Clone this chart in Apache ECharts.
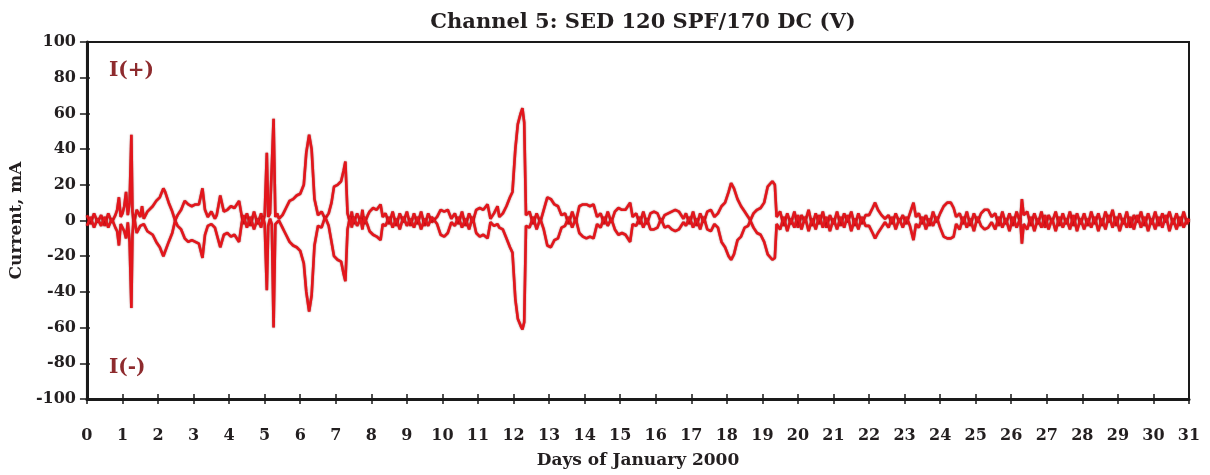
<!DOCTYPE html>
<html>
<head>
<meta charset="utf-8">
<script src="https://cdn.jsdelivr.net/npm/echarts@6/dist/echarts.min.js"></script>
<style>html,body{margin:0;padding:0;background:#fff}#chart{width:1210px;height:475px}</style>
</head>
<body>
<div id="chart"></div>
<script>
const titleText = 'Channel 5: SED 120 SPF/170 DC (V)';
const xAxisName = 'Days of January 2000';
const yAxisName = 'Current, mA';
const xTicks = [0,1,2,3,4,5,6,7,8,9,10,11,12,13,14,15,16,17,18,19,20,21,22,23,24,25,26,27,28,29,30,31];
const yTicks = [-100,-80,-60,-40,-20,0,20,40,60,80,100];

// sample times (days) shared by both series
const days = [
0.0,0.1,0.2,0.3,0.4,0.5,0.6,0.7,0.8,0.85,0.9,0.95,1.0,1.05,1.1,1.15,1.2,1.25,1.28,1.32,1.4,1.5,1.55,1.6,1.7,
1.75,1.85,1.95,2.05,2.15,2.2,2.3,2.4,2.48,
2.55,2.65,2.75,2.85,2.95,3.05,3.15,3.25,3.32,3.4,3.5,3.6,
3.65,3.75,3.85,3.95,4.05,4.15,4.28,4.35,
4.4,4.5,4.6,4.7,4.8,4.9,4.95,5.0,5.06,5.1,5.15,5.2,5.25,5.3,5.35,5.4,5.5,
5.55,5.6,5.7,5.8,5.9,6.0,6.1,6.17,6.25,6.32,6.4,6.5,
6.6,6.7,6.8,6.88,6.95,7.05,7.15,7.22,7.27,7.33,
7.4,7.45,7.5,7.6,7.7,7.75,7.8,7.9,
7.95,8.05,8.15,8.26,8.32,
8.4,8.5,8.6,8.7,8.8,8.9,9.0,9.1,9.2,9.3,9.4,9.5,9.6,9.7,
9.85,9.95,10.05,10.15,10.25,
10.35,10.45,10.55,10.65,10.75,10.85,
10.95,11.05,11.15,11.27,11.35,
11.45,11.55,11.6,
11.7,11.8,11.9,11.97,12.05,12.12,12.2,12.25,12.3,12.35,
12.45,12.55,12.65,12.75,
12.85,12.95,13.05,13.15,13.25,13.35,
13.45,13.55,13.65,13.75,
13.85,13.95,14.05,14.15,14.25,14.35,
14.45,14.55,14.65,14.75,
14.85,14.95,15.05,15.15,15.28,15.35,
15.45,15.55,15.65,15.75,15.85,15.95,16.05,16.15,16.25,
16.35,16.45,16.55,16.65,16.78,
16.85,16.95,17.05,17.15,17.25,17.35,
17.45,17.55,17.65,
17.75,17.85,17.95,18.05,18.12,18.2,18.3,18.4,18.5,18.6,18.66,
18.75,18.85,18.95,19.05,19.15,19.28,19.35,19.4,
19.5,19.6,19.7,19.8,19.9,20.0,20.1,20.2,20.3,20.4,20.5,20.6,20.7,20.8,20.9,21.0,21.1,21.2,21.3,21.4,21.5,21.6,21.7,21.8,21.9,
22.0,22.1,22.17,22.25,22.35,22.45,
22.55,22.65,22.75,22.85,22.95,23.05,23.15,23.25,23.32,
23.4,23.5,23.6,23.7,23.8,23.9,
24.0,24.1,24.2,24.3,24.38,24.45,
24.55,24.65,24.75,24.85,24.95,25.05,
25.15,25.25,25.35,25.45,
25.55,25.65,25.75,25.85,25.95,26.05,26.15,26.25,26.3,26.35,
26.45,26.55,26.65,26.75,26.85,26.95,27.05,27.15,27.25,27.35,27.45,27.55,27.65,27.75,27.85,27.95,
28.05,28.15,28.25,28.35,28.45,28.55,28.65,28.75,28.85,28.95,29.05,29.15,29.25,29.35,29.45,29.55,
29.65,29.75,29.85,29.95,30.05,30.15,30.25,30.35,30.45,30.55,30.65,30.75,30.85,30.95,31.0
];

// I(+) current, mA
const iPlus = [
3,-2,4,-1,3,-3,4,-1,3,6,13,2,4,8,16,3,10,48,5,-2,6,2,8,1,5,
6,8,11,13,18,16,10,5,0,
3,6,11,9,8,9,9,18,6,2,5,1,
3,14,5,6,8,7,11,3,
-2,4,-3,5,-2,4,-1,3,38,2,4,3,57,2,4,1,3,
5,7,11,12,14,15,20,38,48,40,12,3,
5,1,4,10,19,20,22,28,33,4,
-1,5,-2,4,-1,6,-2,3,
5,7,6,9,2,
4,-2,5,-3,4,-1,5,-3,4,-2,5,-3,4,-1,
2,6,5,6,1,
4,-2,5,-3,4,-1,
6,7,6,9,1,
4,8,2,
4,8,13,16,40,54,60,63,55,3,
5,-2,4,-1,
6,13,12,9,8,3,
4,-2,5,-1,
8,9,9,8,9,2,
4,-2,5,-1,
5,7,6,6,10,2,
4,-2,5,-2,4,5,4,-1,3,
4,5,6,5,1,
4,-2,5,-3,4,-1,
5,6,2,
4,8,10,16,21,18,12,8,5,2,0,
4,6,7,10,19,22,20,2,
5,-3,4,-2,5,-4,3,-1,6,-3,4,-2,5,-4,3,-2,5,-3,4,-1,5,-3,4,-2,3,
3,7,10,6,3,1,
3,-2,4,-1,3,-2,4,10,2,
4,-2,3,-3,5,-1,
4,8,10,10,7,2,
4,-2,5,-3,4,-1,
4,6,6,2,
4,-3,5,-2,4,-3,5,-1,12,3,
5,-3,4,-2,5,-4,3,-1,5,-3,4,-2,5,-3,4,-2,
4,-3,5,-2,4,-3,5,-1,6,-3,4,-2,5,-4,3,-1,
5,-3,4,-2,5,-3,4,-1,5,-2,4,-3,5,-2,1
];

// I(-) current, mA
const iMinus = [
-3,2,-4,1,-3,2,-4,1,-4,-6,-14,-2,-3,-6,-10,-1,-12,-49,-8,3,-7,-3,-4,-2,-6,
-5,-8,-12,-15,-20,-21,-12,-7,0,
-3,-5,-10,-12,-11,-12,-13,-21,-8,-3,-2,-4,
-5,-15,-8,-7,-9,-8,-12,-2,
3,-4,2,-5,1,-4,2,-2,-39,-3,1,-2,-60,-2,-3,0,-4,
-6,-8,-12,-14,-15,-17,-24,-40,-51,-42,-14,-3,
-4,2,-3,-12,-20,-22,-23,-30,-34,-5,
2,-4,2,-3,1,-5,2,-3,
-6,-8,-9,-11,-2,
-3,2,-4,1,-5,2,-3,1,-4,2,-5,1,-3,2,
-2,-8,-9,-7,-1,
-3,2,-4,1,-5,2,
-7,-9,-8,-10,-1,
-3,-2,-4,
-5,-10,-15,-18,-44,-55,-59,-61,-57,-3,
-4,2,-5,1,
-5,-14,-15,-11,-10,-4,
-3,2,-4,1,
-7,-9,-10,-9,-10,-2,
-4,2,-3,1,
-5,-8,-7,-8,-12,-2,
-3,2,-4,1,-5,-5,-4,1,-4,
-3,-5,-6,-5,-1,
-3,2,-4,1,-5,2,
-5,-6,-2,
-4,-12,-15,-20,-22,-19,-11,-9,-4,-3,0,
-4,-7,-8,-12,-19,-22,-21,-2,
-5,2,-6,1,-4,3,-5,2,-6,1,-5,3,-4,2,-6,1,-5,2,-4,3,-6,1,-5,2,-3,
-3,-7,-10,-7,-4,-1,
-4,2,-5,1,-4,2,-3,-11,-2,
-4,2,-5,1,-3,2,
-4,-9,-10,-10,-9,-2,
-5,2,-4,1,-6,2,
-3,-5,-4,-1,
-5,2,-4,1,-6,2,-4,1,-13,-2,
-5,2,-6,1,-4,3,-5,1,-6,2,-4,1,-5,3,-6,1,
-5,1,-4,2,-6,1,-5,3,-4,2,-6,1,-4,2,-5,3,
-4,2,-6,1,-5,2,-4,3,-6,1,-5,2,-4,1,-1
];

const FONT = 'DejaVu Serif';
const chart = echarts.init(document.getElementById('chart'), null, {renderer: 'canvas'});
const lineColor = '#e3161c';
const annotColor = '#8e2b2e';

const plusData = days.map((d, i) => [d, iPlus[i]]);
const minusData = days.map((d, i) => [d, iMinus[i]]);

const baseX = {
  type: 'value', min: xTicks[0], max: xTicks[xTicks.length - 1], interval: 1
};
const baseY = {
  type: 'value', min: yTicks[0], max: yTicks[yTicks.length - 1], interval: 20
};

chart.setOption({
  animation: false,
  backgroundColor: '#fff',
  title: {
    text: titleText, left: 638, top: 7, textAlign: 'center',
    textStyle: {fontFamily: FONT, fontWeight: 'bold', fontSize: 21, color: '#231f20'}
  },
  grid: {left: 86, right: 21, top: 42, bottom: 76, show: true, borderColor: '#1a1a1a', borderWidth: 2, backgroundColor: 'transparent'},
  xAxis: [
    Object.assign({}, baseX, {
      position: 'bottom',
      name: xAxisName, nameLocation: 'middle', nameGap: 53,
      nameTextStyle: {fontFamily: FONT, fontWeight: 'bold', fontSize: 17, color: '#231f20'},
      axisLine: {show: true, onZero: false, lineStyle: {color: '#1a1a1a', width: 3}},
      axisTick: {show: true, length: 5, lineStyle: {color: '#1a1a1a', width: 1.5}},
      axisLabel: {margin: 29, fontFamily: FONT, fontWeight: 'bold', fontSize: 16, color: '#231f20'},
      splitLine: {show: false}
    }),
    Object.assign({}, baseX, {
      position: 'bottom', gridIndex: 0,
      axisLine: {show: false, onZero: false},
      axisTick: {show: true, inside: true, length: 5, lineStyle: {color: '#1a1a1a', width: 1.5}},
      axisLabel: {show: false}, splitLine: {show: false}
    })
  ],
  yAxis: [
    Object.assign({}, baseY, {
      name: yAxisName, nameLocation: 'middle', nameGap: 60,
      nameTextStyle: {fontFamily: FONT, fontWeight: 'bold', fontSize: 17, color: '#231f20'},
      axisLine: {show: true, onZero: false, lineStyle: {color: '#1a1a1a', width: 3}},
      axisTick: {show: true, length: 7, lineStyle: {color: '#1a1a1a', width: 1.5}},
      axisLabel: {margin: 11, fontFamily: FONT, fontWeight: 'bold', fontSize: 16, color: '#231f20'},
      splitLine: {show: false}
    }),
    Object.assign({}, baseY, {
      position: 'left',
      axisLine: {show: false, onZero: false},
      axisTick: {show: true, inside: true, length: 3, lineStyle: {color: '#1a1a1a', width: 1.5}},
      axisLabel: {show: false}, splitLine: {show: false}
    })
  ],
  series: [
    {
      name: 'I(+)', type: 'line', xAxisIndex: 0, yAxisIndex: 0, data: plusData,
      showSymbol: false, symbol: 'none',
      lineStyle: {color: lineColor, width: 2.6, shadowColor: 'rgba(110,0,0,0.7)', shadowBlur: 1.5}
    },
    {
      name: 'I(-)', type: 'line', xAxisIndex: 0, yAxisIndex: 0, data: minusData,
      showSymbol: false, symbol: 'none',
      lineStyle: {color: lineColor, width: 2.6, shadowColor: 'rgba(110,0,0,0.7)', shadowBlur: 1.5}
    }
  ],
  graphic: [
    {type: 'text', left: 109, top: 61, style: {text: 'I(+)', fontFamily: FONT, fontWeight: 'bold', fontSize: 20, fill: annotColor}},
    {type: 'text', left: 109, top: 358, style: {text: 'I(-)', fontFamily: FONT, fontWeight: 'bold', fontSize: 20, fill: annotColor}}
  ]
});
</script>
</body>
</html>
